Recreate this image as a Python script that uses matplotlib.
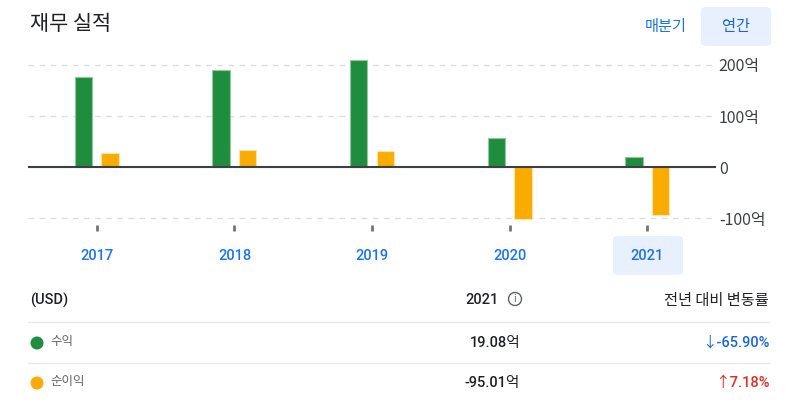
import matplotlib.pyplot as plt
from matplotlib.patches import FancyBboxPatch, Circle
from matplotlib.lines import Line2D

plt.rcParams['font.family'] = ['Noto Sans CJK KR', 'DejaVu Sans']
num_font = ['Roboto', 'Noto Sans CJK KR', 'DejaVu Sans']

# data
years = ['2017', '2018', '2019', '2020', '2021']
revenue = [176, 190, 209, 56, 19.08]
net_income = [27, 33, 31, -102.4, -95.01]
ytick_vals = [-100, 0, 100, 200]
ytick_labels = ['-100억', '0', '100억', '200억']
row_names = ['수익', '순이익']
row_values = ['19.08억', '-95.01억']
row_changes = ['↓-65.90%', '↑7.18%']
row_change_colors = ['#1967d2', '#d93025']
series_colors = ['#1e8e3e', '#f9ab00']

W, H = 789, 403
fig = plt.figure(figsize=(W / 100, H / 100), dpi=100)

def fx(x):
    return x / W

def fy(y):
    return 1 - y / H

def circ(x, y, r, **kw):
    # circle given in pixels, drawn in inches so it stays round
    return Circle((x / 100, (H - y) / 100), r / 100, transform=fig.dpi_scale_trans, **kw)

# chart axes (pixel box: x 28..716, y 55..225)
ax = fig.add_axes([fx(28), fy(225), (716 - 28) / W, (225 - 55) / H])
x = range(len(years))
bw = 0.127
off = 0.097
ax.bar([i - off for i in x], revenue, width=bw, color=series_colors[0],
       edgecolor='#8fc79e', linewidth=0.8, zorder=3)
ax.bar([i + off for i in x], net_income, width=bw, color=series_colors[1],
       edgecolor='#fde3a7', linewidth=0.8, zorder=3)

ax.set_xlim(-0.5, 4.5)
ax.set_ylim(-113.7, 219.6)
for v in ytick_vals:
    if v == 0:
        ax.axhline(0, color='#3c4043', linewidth=1.5, zorder=4)
    else:
        ax.axhline(v, color='#dadce0', linewidth=1, linestyle=(0, (4, 4)), zorder=1)

ax.yaxis.tick_right()
ax.set_yticks(ytick_vals)
ax.set_yticklabels(ytick_labels, fontsize=11.5, color='#3c4043')
ax.tick_params(axis='y', length=0, pad=2)
ax.set_xticks(list(x))
ax.set_xticklabels([])
ax.tick_params(axis='x', length=4, width=2, color='#70757a', direction='out')
for s in ax.spines.values():
    s.set_visible(False)

# year labels with the selected one highlighted
fig.patches.append(FancyBboxPatch((fx(613), fy(275)), fx(70), (275 - 236) / H,
                                  boxstyle='round,pad=0,rounding_size=0.008',
                                  transform=fig.transFigure, facecolor='#e8f0fe',
                                  edgecolor='none', zorder=0))
for i, yr in enumerate(years):
    xc = 97 + i * 137.6
    fig.text(fx(xc), fy(256), yr, fontsize=10.5, color='#1a73e8', weight='medium',
             family=num_font, ha='center', va='center')

# header
fig.text(fx(30), fy(24), '재무 실적', fontsize=15, color='#202124', va='center')
fig.text(fx(666), fy(26), '매분기', fontsize=11, color='#1a73e8', ha='center', va='center')
fig.patches.append(FancyBboxPatch((fx(701), fy(46)), fx(70), (46 - 7) / H,
                                  boxstyle='round,pad=0,rounding_size=0.008',
                                  transform=fig.transFigure, facecolor='#e8f0fe',
                                  edgecolor='none', zorder=0))
fig.text(fx(736), fy(26), '연간', fontsize=11, color='#1967d2', ha='center', va='center')

# table
fig.text(fx(30), fy(300), '(USD)', fontsize=10.5, color='#202124', va='center',
         family=num_font, weight='medium')
fig.text(fx(499), fy(300), '2021', fontsize=10.5, color='#202124', va='center', ha='right',
         family=num_font, weight='medium')
fig.patches.append(circ(515, 299, 6.5, facecolor='none', edgecolor='#5f6368', linewidth=1))
fig.text(fx(515), fy(299), 'i', fontsize=7, color='#5f6368', va='center', ha='center',
         family='DejaVu Sans')
fig.text(fx(769), fy(300), '전년 대비 변동률', fontsize=11, color='#202124',
         va='center', ha='right')

for yl in [322, 363]:
    fig.add_artist(Line2D([fx(28), fx(769)], [fy(yl), fy(yl)], color='#e8eaed', linewidth=1))

for k in range(2):
    yc = 343 + k * 40
    fig.patches.append(circ(37, yc, 6.5, facecolor=series_colors[k], edgecolor='none'))
    fig.text(fx(50), fy(yc - 1), row_names[k], fontsize=9, color='#5f6368', va='center')
    fig.text(fx(520), fy(yc), row_values[k], fontsize=10.5, color='#202124',
             va='center', ha='right', weight='medium', family=num_font)
    fig.text(fx(770), fy(yc), row_changes[k], fontsize=10.5, color=row_change_colors[k],
             va='center', ha='right', weight='medium', family=num_font)

fig.savefig('out.png', dpi=100)
plt.close(fig)
